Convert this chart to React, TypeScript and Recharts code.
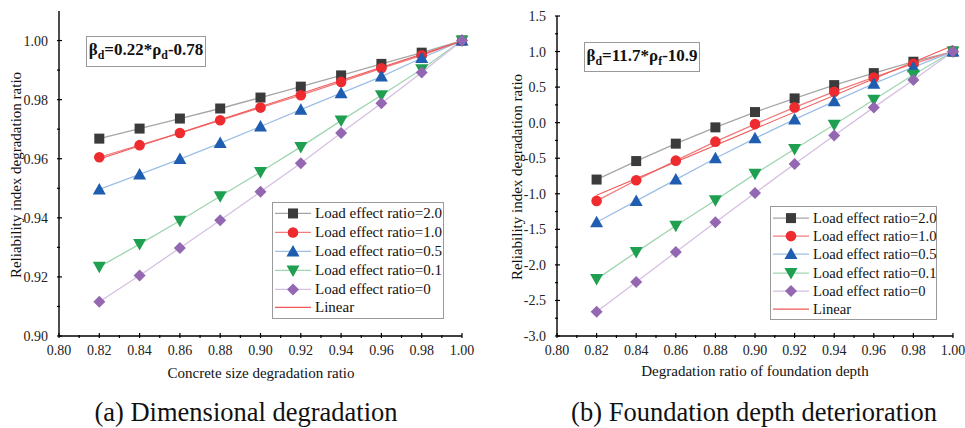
import { LineChart, Line, XAxis, YAxis, Legend } from "recharts";

// x positions of the calculated points
const ratioX = [0.82, 0.84, 0.86, 0.88, 0.9, 0.92, 0.94, 0.96, 0.98, 1.0];
const fitX = [0.82, 1.0];

// (a) dimensional degradation
const dimR20 = [0.9668, 0.9702, 0.9736, 0.977, 0.9807, 0.9844, 0.9882, 0.9921, 0.9959, 1.0];
const dimR10 = [0.9605, 0.9646, 0.9687, 0.973, 0.9773, 0.9815, 0.986, 0.9906, 0.995, 1.0];
const dimR05 = [0.9496, 0.9547, 0.9599, 0.9653, 0.9709, 0.9766, 0.9822, 0.9878, 0.9941, 1.0];
const dimR01 = [0.9234, 0.9311, 0.939, 0.9473, 0.9555, 0.964, 0.9729, 0.9815, 0.9903, 1.0];
const dimR00 = [0.9116, 0.9205, 0.9298, 0.9392, 0.9488, 0.9585, 0.9687, 0.9788, 0.9892, 1.0];
const dimLinear = [0.9599, 0.9998];

// (b) foundation depth deterioration
const depR20 = [-0.8, -0.54, -0.295, -0.066, 0.149, 0.341, 0.528, 0.697, 0.857, 1.0];
const depR10 = [-1.1, -0.81, -0.534, -0.267, -0.02, 0.215, 0.435, 0.636, 0.829, 1.0];
const depR05 = [-1.4, -1.1, -0.8, -0.5, -0.22, 0.046, 0.3, 0.548, 0.78, 1.0];
const depR01 = [-2.2, -1.82, -1.45, -1.09, -0.72, -0.37, -0.03, 0.323, 0.674, 1.0];
const depR00 = [-2.66, -2.24, -1.82, -1.4, -0.99, -0.58, -0.18, 0.215, 0.6, 1.0];
const depLinear = [-1.02, 1.085];

// ticks (major + minor)
const xTicks = [
  0.8, 0.81, 0.82, 0.83, 0.84, 0.85, 0.86, 0.87, 0.88, 0.89, 0.9,
  0.91, 0.92, 0.93, 0.94, 0.95, 0.96, 0.97, 0.98, 0.99, 1.0,
];
const dimYTicks = [0.9, 0.91, 0.92, 0.93, 0.94, 0.95, 0.96, 0.97, 0.98, 0.99, 1.0];
const depYTicks = [
  -3, -2.75, -2.5, -2.25, -2, -1.75, -1.5, -1.25, -1, -0.75, -0.5, -0.25,
  0, 0.25, 0.5, 0.75, 1, 1.25, 1.5,
];

const seriesNames = [
  "Load effect ratio=2.0",
  "Load effect ratio=1.0",
  "Load effect ratio=0.5",
  "Load effect ratio=0.1",
  "Load effect ratio=0",
];

const seriesStyle = [
  { key: "r20", shape: "square", fill: "#3b3b3b", stroke: "#a6a6a6" },
  { key: "r10", shape: "circle", fill: "#ee2b2f", stroke: "#f17c7c" },
  { key: "r05", shape: "up", fill: "#1f5db0", stroke: "#9dbfe6" },
  { key: "r01", shape: "down", fill: "#1fa050", stroke: "#9fd5b0" },
  { key: "r00", shape: "diamond", fill: "#9467b2", stroke: "#d6bfe2" },
];
const linearColor = "#f05a5a";
const FONT = "Liberation Serif, serif";

const buildRows = (cols: number[][]) =>
  ratioX.map((x, i) => {
    const row: Record<string, number> = { x };
    seriesStyle.forEach((s, j) => (row[s.key] = cols[j][i]));
    return row;
  });

const buildFit = (vals: number[]) => fitX.map((x, i) => ({ x, lin: vals[i] }));

const dimRows = buildRows([dimR20, dimR10, dimR05, dimR01, dimR00]);
const depRows = buildRows([depR20, depR10, depR05, depR01, depR00]);

const Marker = ({ cx, cy, shape, fill }: any) => {
  if (cx == null || cy == null) return null;
  switch (shape) {
    case "square":
      return <rect x={cx - 5} y={cy - 5} width={10} height={10} fill={fill} />;
    case "circle":
      return <circle cx={cx} cy={cy} r={5.3} fill={fill} />;
    case "up":
      return <polygon points={`${cx},${cy - 6.5} ${cx + 6.5},${cy + 5} ${cx - 6.5},${cy + 5}`} fill={fill} />;
    case "down":
      return <polygon points={`${cx},${cy + 6.5} ${cx + 6.5},${cy - 5} ${cx - 6.5},${cy - 5}`} fill={fill} />;
    default:
      return <polygon points={`${cx},${cy - 6} ${cx + 6},${cy} ${cx},${cy + 6} ${cx - 6},${cy}`} fill={fill} />;
  }
};

const isMajor2 = (v: number) => Math.round(v * 100) % 2 === 0;
const isMajorHalf = (v: number) => Math.round(v * 4) % 2 === 0;

// inward ticks, labels only on major ones
const makeTick =
  (side: string, isMajor: (v: number) => boolean, fmt?: (v: number) => string) =>
  (props: any) => {
    const { x, y, payload, index } = props;
    const v = payload.value;
    const major = isMajor(v);
    const len = major ? 5 : 3;
    const txt = { fontFamily: FONT, fontSize: 14, fill: "#222", stroke: "none" };
    let line;
    let label = null;
    if (side === "bottom") {
      line = <line x1={x} x2={x} y1={y} y2={y - len} />;
      if (major && fmt)
        label = (
          <text x={x} y={y + 16.5} textAnchor="middle" style={txt}>
            {fmt(v)}
          </text>
        );
    } else if (side === "top") {
      line = <line x1={x} x2={x} y1={y} y2={y + len} />;
    } else if (side === "left") {
      line = <line x1={x} x2={x + len} y1={y} y2={y} />;
      if (major && fmt)
        label = (
          <text x={x - 9} y={y + 5} textAnchor="end" style={txt}>
            {fmt(v)}
          </text>
        );
    } else {
      line = <line x1={x} x2={x - len} y1={y} y2={y} />;
    }
    return (
      <g key={`t-${side}-${index}`} stroke="#000" strokeWidth={1.2}>
        {line}
        {label}
      </g>
    );
  };

const LegendBox = ({ fontSize, rowH, padTop, padLeft }: any) => {
  const text = { fontFamily: FONT, fontSize, color: "#111", lineHeight: `${rowH}px` };
  return (
    <div
      style={{
        border: "1px solid #9a9a9a",
        background: "#fff",
        paddingTop: padTop,
        paddingBottom: 1,
        paddingLeft: padLeft,
        paddingRight: 6,
        textAlign: "left",
      }}
    >
      {seriesStyle.map((s, i) => (
        <div key={s.key} style={{ display: "flex", alignItems: "center", height: rowH, whiteSpace: "nowrap" }}>
          <svg width={36} height={rowH} style={{ marginRight: 4, flex: "none" }}>
            <line x1={0} x2={36} y1={rowH / 2} y2={rowH / 2} stroke={s.stroke} strokeWidth={1.3} />
            <Marker cx={18} cy={rowH / 2} shape={s.shape} fill={s.fill} />
          </svg>
          <span style={text}>{seriesNames[i]}</span>
        </div>
      ))}
      <div style={{ display: "flex", alignItems: "center", height: rowH, whiteSpace: "nowrap" }}>
        <svg width={36} height={rowH} style={{ marginRight: 4, flex: "none" }}>
          <line x1={0} x2={36} y1={rowH / 2} y2={rowH / 2} stroke={linearColor} strokeWidth={1.2} />
        </svg>
        <span style={text}>Linear</span>
      </div>
    </div>
  );
};

const Panel = ({ rows, fit, yDomain, yTicks, yMajor, yFmt, width, margin, yWidth, legendPos, legendProps }: any) => (
  <LineChart width={width} height={428} data={rows} margin={margin}>
    <XAxis
      dataKey="x"
      type="number"
      domain={[0.8, 1.0]}
      ticks={xTicks}
      interval={0}
      tickSize={0}
      tickLine={false}
      height={92}
      axisLine={{ stroke: "#000", strokeWidth: 1.4 }}
      tick={makeTick("bottom", isMajor2, (v) => v.toFixed(2))}
    />
    <XAxis
      xAxisId="top"
      orientation="top"
      type="number"
      domain={[0.8, 1.0]}
      allowDataOverflow
      ticks={xTicks}
      interval={0}
      tickSize={0}
      tickLine={false}
      height={0}
      axisLine={{ stroke: "#000", strokeWidth: 1.4 }}
      tick={makeTick("top", isMajor2)}
    />
    <YAxis
      type="number"
      domain={yDomain}
      allowDataOverflow
      ticks={yTicks}
      interval={0}
      tickSize={0}
      tickLine={false}
      width={yWidth}
      axisLine={{ stroke: "#000", strokeWidth: 1.4 }}
      tick={makeTick("left", yMajor, yFmt)}
    />
    <YAxis
      yAxisId="right"
      orientation="right"
      type="number"
      domain={yDomain}
      allowDataOverflow
      ticks={yTicks}
      interval={0}
      tickSize={0}
      tickLine={false}
      width={0}
      axisLine={{ stroke: "#000", strokeWidth: 1.4 }}
      tick={makeTick("right", yMajor)}
    />
    {seriesStyle.map((s) => (
      <Line
        key={s.key}
        dataKey={s.key}
        stroke={s.stroke}
        strokeWidth={1.3}
        isAnimationActive={false}
        dot={(p: any) => <Marker key={`${s.key}-${p.index}`} cx={p.cx} cy={p.cy} shape={s.shape} fill={s.fill} />}
        activeDot={false}
      />
    ))}
    <Line
      data={fit}
      dataKey="lin"
      stroke={linearColor}
      strokeWidth={1.1}
      dot={false}
      activeDot={false}
      isAnimationActive={false}
    />
    <Legend
      layout="vertical"
      align="center"
      verticalAlign="middle"
      wrapperStyle={{ ...legendPos }}
      content={() => <LegendBox {...legendProps} />}
    />
  </LineChart>
);

const abs = (extra: any): any => ({ position: "absolute", fontFamily: FONT, color: "#111", whiteSpace: "nowrap", ...extra });

const Formula = ({ children, style }: any) => (
  <div
    style={abs({
      border: "1px solid #999",
      background: "#fff",
      fontWeight: "bold",
      fontSize: 17,
      display: "flex",
      alignItems: "center",
      justifyContent: "center",
      ...style,
    })}
  >
    <span>{children}</span>
  </div>
);

const sub = { fontSize: "0.7em", verticalAlign: "-0.3em" };

export default function App() {
  return (
    <div style={{ position: "absolute", left: 0, top: 0, width: 965, height: 428, background: "#fff" }}>
      <div style={{ position: "absolute", left: 0, top: 0 }}>
        <Panel
          rows={dimRows}
          fit={buildFit(dimLinear)}
          yDomain={[0.9, 1.01]}
          yTicks={dimYTicks}
          yMajor={isMajor2}
          yFmt={(v: number) => v.toFixed(2)}
          width={480}
          margin={{ top: 11, right: 18, bottom: 0, left: 0 }}
          yWidth={59}
          legendPos={{ left: 272, top: 202, width: 172 }}
          legendProps={{ fontSize: 15, rowH: 18.9, padTop: 1, padLeft: 2 }}
        />
      </div>
      <div style={{ position: "absolute", left: 480, top: 0 }}>
        <Panel
          rows={depRows}
          fit={buildFit(depLinear)}
          yDomain={[-3, 1.5]}
          yTicks={depYTicks}
          yMajor={isMajorHalf}
          yFmt={(v: number) => v.toFixed(1)}
          width={485}
          margin={{ top: 16, right: 12, bottom: 0, left: 0 }}
          yWidth={77}
          legendPos={{ left: 290, top: 206, width: 167 }}
          legendProps={{ fontSize: 14.6, rowH: 18.2, padTop: 2, padLeft: 2 }}
        />
      </div>

      <Formula style={{ left: 86, top: 36, width: 118, height: 29 }}>
        β<span style={sub}>d</span>=0.22*ρ<span style={sub}>d</span>-0.78
      </Formula>
      <Formula style={{ left: 584, top: 42, width: 114, height: 28 }}>
        β<span style={sub}>d</span>=11.7*ρ<span style={sub}>f</span>-10.9
      </Formula>

      <div style={abs({ left: 16, top: 175, fontSize: 15, transform: "translate(-50%, -50%) rotate(-90deg)" })}>
        Reliability index degradation ratio
      </div>
      <div style={abs({ left: 517, top: 177, fontSize: 15, transform: "translate(-50%, -50%) rotate(-90deg)" })}>
        Reliability index degradation ratio
      </div>

      <div style={abs({ left: 261, top: 373, fontSize: 15, transform: "translate(-50%, -50%)" })}>
        Concrete size degradation ratio
      </div>
      <div style={abs({ left: 755, top: 371, fontSize: 15, transform: "translate(-50%, -50%)" })}>
        Degradation ratio of foundation depth
      </div>

      <div style={abs({ left: 246, top: 412, fontSize: 26.5, transform: "translate(-50%, -50%)" })}>
        (a) Dimensional degradation
      </div>
      <div style={abs({ left: 754, top: 412, fontSize: 26.5, transform: "translate(-50%, -50%)" })}>
        (b) Foundation depth deterioration
      </div>
    </div>
  );
}
